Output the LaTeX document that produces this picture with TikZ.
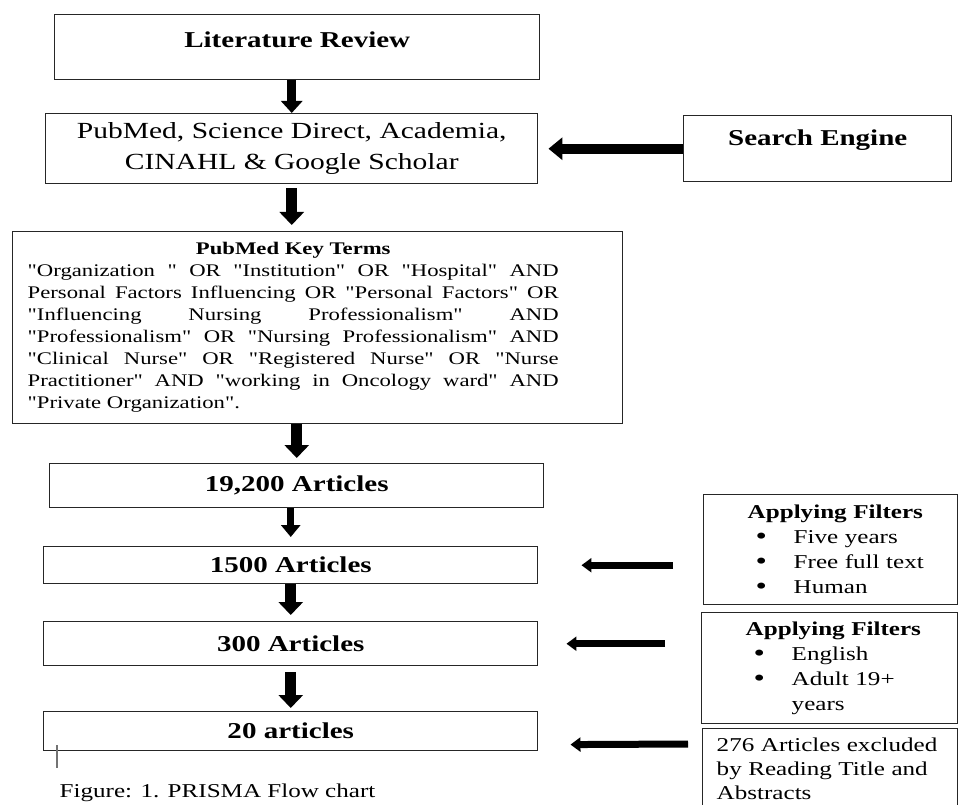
\documentclass[tikz,border=0pt]{standalone}
\usepackage{fontspec}
\setmainfont{Liberation Serif}[FakeStretch=1.28, Ligatures=TeXOff]
\usepackage{tikz}
\usetikzlibrary{arrows.meta, positioning}
\newdimen\pxu \pxu=0.75pt
\newcommand{\litfont}{\fontsize{17}{20}\selectfont\bfseries}
\newcommand{\srcfont}{\fontsize{17.3}{23.25}\selectfont}
\newcommand{\keyfont}{\fontsize{13.3}{16.5}\selectfont}
\newcommand{\filterfont}{\fontsize{14.7}{18.75}\selectfont}
\newcommand{\capfont}{\fontsize{14.7}{18}\selectfont}
\tikzstyle{box} = [draw=black!85, line width=1.1pt, inner sep=0pt, anchor=north west]
\tikzstyle{downarrow} = [line width=11\pxu, -{Triangle[width=18pt,length=9.75pt]}]
\tikzstyle{sidearrow} = [line width=7\pxu, -{Triangle[width=10.5pt,length=7.5pt]}]
\newcommand{\filteritem}[1]{\hspace*{42\pxu}\makebox[38\pxu][l]{\raisebox{-0.6\pxu}{\fontsize{19}{0}\selectfont\textbullet}}#1}

\begin{document}
\begin{tikzpicture}[x=0.75pt, y=-0.75pt]
    \useasboundingbox (0,0) rectangle (959,805);
    \clip (0,0) rectangle (959,805);

    % Main column
    \node[box, minimum width=485\pxu, text height=32.5\pxu, text depth=32.5\pxu, font=\litfont] (lit) at (54,14) {Literature Review};
    \node[box, minimum width=492\pxu, minimum height=70\pxu, align=center, font=\srcfont] (src) at (45,113) {PubMed, Science Direct, Academia,\\ CINAHL \& Google Scholar};
    \node[box, minimum width=610\pxu, minimum height=192\pxu, inner xsep=15\pxu, font=\keyfont] (keys) at (12,231) {%
        \begin{minipage}{531\pxu}\setlength{\parindent}{0pt}%
        \centerline{\bfseries PubMed Key Terms}
        "Organization\ " OR "Institution" OR "Hospital" AND\linebreak
        Personal Factors Influencing OR "Personal Factors" OR\linebreak
        "Influencing Nursing Professionalism" AND\linebreak
        "Professionalism" OR "Nursing Professionalism" AND\linebreak
        "Clinical Nurse" OR "Registered Nurse" OR "Nurse\linebreak
        Practitioner" AND "working in Oncology ward" AND\linebreak
        "Private Organization".
        \end{minipage}\rule{49\pxu}{0pt}};
    \node[box, minimum width=494\pxu, minimum height=44\pxu, font=\litfont] (n19) at (49,463) {19,200 Articles};
    \node[box, minimum width=494\pxu, minimum height=37\pxu, font=\litfont] (n15) at (43,546) {1500 Articles};
    \node[box, minimum width=494\pxu, minimum height=44\pxu, font=\litfont] (n3) at (43,621) {300 Articles};
    \node[box, minimum width=494\pxu, minimum height=39\pxu, font=\litfont] (n20) at (43,711) {20 articles};

    % Side boxes
    \node[box, minimum width=268\pxu, text height=29.5\pxu, text depth=36.5\pxu, font=\litfont] (se) at (683,115) {Search Engine};
    \node[box, minimum width=254\pxu, minimum height=110\pxu, inner xsep=10\pxu, text width=234\pxu, align=left, font=\filterfont] (f1) at (703,494) {%
        \hspace*{34\pxu}\textbf{Applying Filters}\\ \filteritem{Five years}\\ \filteritem{Free full text}\\ \filteritem{Human}};
    \node[box, minimum width=256\pxu, minimum height=111\pxu, inner xsep=10\pxu, text width=236\pxu, align=left, font=\filterfont] (f2) at (701,612) {%
        \hspace*{34\pxu}\textbf{Applying Filters}\\ \filteritem{English}\\ \filteritem{Adult 19+}\\ \hspace*{80\pxu}years};
    \node[box, minimum width=255\pxu, inner xsep=14\pxu, inner ysep=9\pxu, text width=227\pxu, align=left, font=\fontsize{14.7}{18}\selectfont] (f3) at (702,728) {%
        276 Articles excluded\\ by Reading Title and\\ Abstracts};

    % Down arrows
    \draw[downarrow, line width=9\pxu, -{Triangle[width=15.75pt,length=9pt]}] (src.north |- lit.south) -- (src.north);
    \draw[downarrow, shorten <=4\pxu, shorten >=6\pxu] (src.south) -- (src.south |- keys.north);
    \draw[downarrow, shorten >=5\pxu] (n19.north |- keys.south) -- (n19.north);
    \draw[downarrow, line width=7\pxu, -{Triangle[width=14.25pt,length=9pt]}, shorten >=9\pxu] (n15.north |- n19.south) -- (n15.north);
    \draw[downarrow, shorten >=6\pxu] (n15.south) -- (n3.north);
    \draw[downarrow, shorten <=6\pxu, shorten >=3\pxu] (n3.south) -- (n20.north);

    % Side arrows
    \draw[sidearrow, line width=10\pxu, -{Triangle[width=16.5pt,length=10.5pt]}, shorten >=10\pxu] (se.west) -- (src.east);
    \draw[sidearrow, shorten <=30\pxu, shorten >=43\pxu] (f1.west |- n15.east) -- (n15.east);
    \draw[sidearrow, shorten <=36\pxu, shorten >=28\pxu] (f2.west |- n3.east) -- (n3.east);
    \draw[sidearrow, shorten >=32\pxu] ([xshift=-14\pxu,yshift=-16\pxu]f3.north west) -- ([yshift=-13.5\pxu]n20.east);

    % Caption
    \draw[black!55, line width=1.1pt] (57,745) -- (57,768);
    \node[anchor=base west, font=\capfont] (cap) at (55,797) {Figure: 1. PRISMA Flow chart};
\end{tikzpicture}
\end{document}
